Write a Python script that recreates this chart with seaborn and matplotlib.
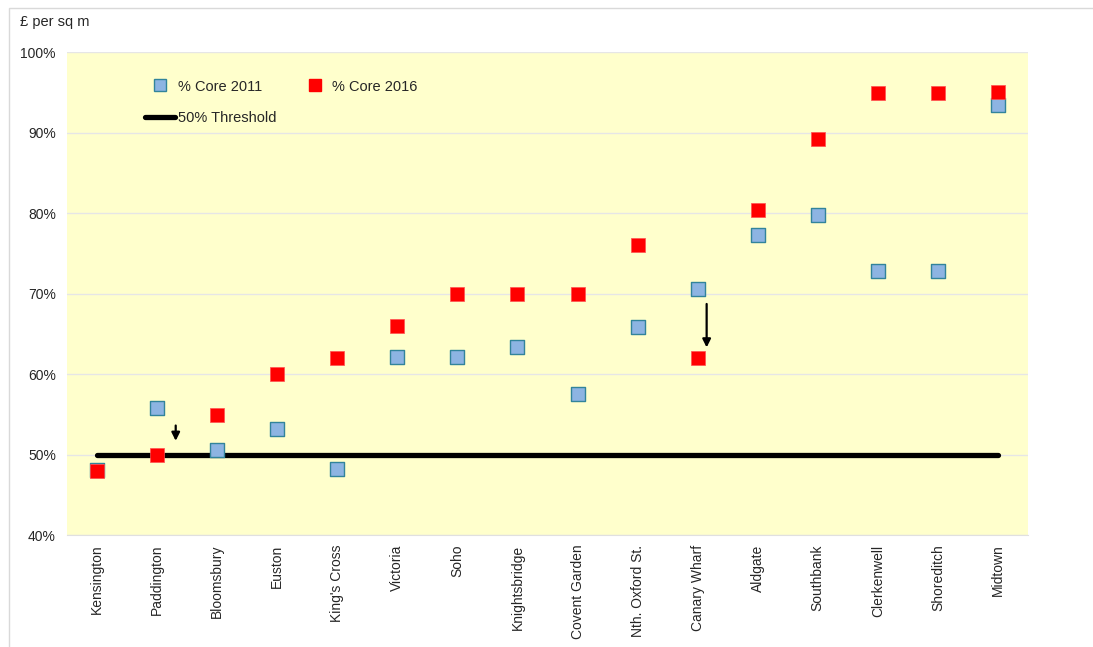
import numpy as np
import pandas as pd
import matplotlib
matplotlib.use("Agg")
import matplotlib.pyplot as plt
from matplotlib.lines import Line2D
from matplotlib.patches import Rectangle
import seaborn as sns

# data (percent)
areas = ["Kensington", "Paddington", "Bloomsbury", "Euston", "King's Cross",
         "Victoria", "Soho", "Knightsbridge", "Covent Garden", "Nth. Oxford St.",
         "Canary Wharf", "Aldgate", "Southbank", "Clerkenwell", "Shoreditch", "Midtown"]
core2011 = [48.1, 55.8, 50.6, 53.2, 48.2, 62.1, 62.1, 63.4, 57.5, 65.8,
            70.6, 77.3, 79.8, 72.8, 72.8, 93.4]
core2016 = [48.0, 50.0, 54.9, 60.0, 62.0, 66.0, 70.0, 70.0, 70.0, 76.0,
            62.0, 80.4, 89.2, 94.9, 94.9, 95.0]
threshold = [50] * len(areas)
yticks = [40, 50, 60, 70, 80, 90, 100]

df = pd.DataFrame({"area": areas, "c2011": core2011, "c2016": core2016,
                   "thr": threshold})
df["pos"] = np.arange(len(areas))

sns.set_style("white")
plt.rcParams["font.family"] = ["Liberation Sans", "DejaVu Sans"]

fig = plt.figure(figsize=(10.93, 6.47), dpi=100)
ax = fig.add_axes([0.0613, 0.1731, 0.8792, 0.7465])
ax.set_facecolor("#FFFFCC")

# light frame round the whole chart
fig.patches.append(Rectangle((9 / 1093, -0.1), 1.2, 1 - 8 / 647 + 0.1,
                             transform=fig.transFigure, fill=False,
                             edgecolor="#D9D9D9", lw=1, zorder=0))

sns.lineplot(data=df, x="pos", y="thr", ax=ax, color="black", lw=3.8,
             solid_capstyle="round", zorder=2)
sns.scatterplot(data=df, x="pos", y="c2011", ax=ax, marker="s", s=100,
                color="#8DB4E2", edgecolor="#31849B", linewidth=1, zorder=3)
sns.scatterplot(data=df, x="pos", y="c2016", ax=ax, marker="s", s=100,
                color="#FF0000", edgecolor="#FF5050", linewidth=0.5, zorder=4)

# arrows
ax.annotate("", xy=(1.31, 51.7), xytext=(1.31, 53.6),
            arrowprops=dict(arrowstyle="-|>", color="black", lw=1.6,
                            mutation_scale=12, shrinkA=0, shrinkB=0))
ax.annotate("", xy=(10.15, 63.3), xytext=(10.15, 68.7),
            arrowprops=dict(arrowstyle="-|>", color="black", lw=1.6,
                            mutation_scale=12, shrinkA=0, shrinkB=0))

ax.set_xlim(-0.5, len(areas) - 0.5)
ax.set_ylim(40, 100)
ax.set_yticks(yticks)
ax.set_yticklabels([f"{v}%" for v in yticks], fontsize=10)
ax.set_xticks(df["pos"])
ax.set_xticklabels(areas, rotation=90, fontsize=10, va="top", ha="center")
ax.tick_params(axis="y", length=0, pad=8)
ax.tick_params(axis="x", length=0, pad=7)
ax.yaxis.grid(True, color="#E6E6E6", lw=1)
ax.set_axisbelow(True)
ax.set_xlabel("")
ax.set_ylabel("")
for side in ["top", "right", "left"]:
    ax.spines[side].set_visible(False)
ax.spines["bottom"].set_color("#E0E0E0")

handles = [
    Line2D([], [], ls="none", marker="s", markersize=8, markerfacecolor="#8DB4E2",
           markeredgecolor="#31849B", label="% Core 2011"),
    Line2D([], [], color="black", lw=3.8, solid_capstyle="round", label="50% Threshold"),
    Line2D([], [], ls="none", marker="s", markersize=8, markerfacecolor="#FF0000",
           markeredgecolor="#FF0000", label="% Core 2016"),
]
ax.legend(handles=handles, ncol=2, loc="upper left", bbox_to_anchor=(0.081, 0.943),
          frameon=False, fontsize=10.5, handlelength=2.1, handletextpad=0.15,
          labelspacing=1.2, columnspacing=1.6, borderpad=0, borderaxespad=0)

fig.text(20 / 1093, 1 - 22 / 647, "£ per sq m", fontsize=10.5, va="center", ha="left")

fig.savefig("out.png", dpi=100)
